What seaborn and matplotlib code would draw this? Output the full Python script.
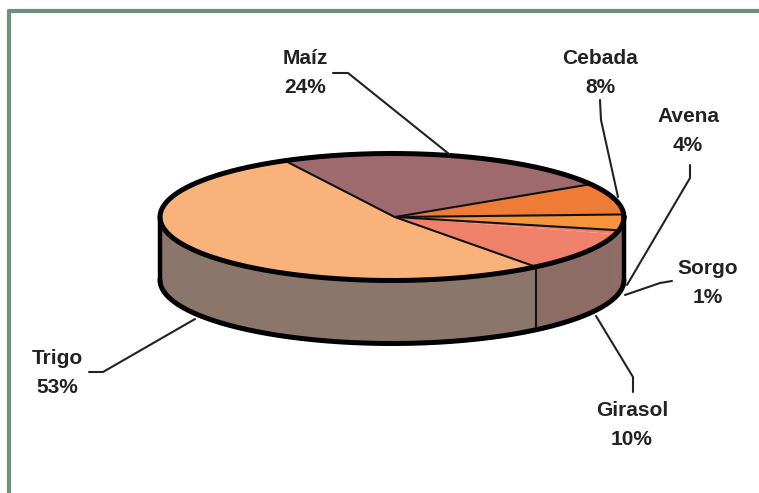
import numpy as np
import matplotlib
matplotlib.use("Agg")
import matplotlib.pyplot as plt
from matplotlib.lines import Line2D
from matplotlib.transforms import Affine2D
import seaborn as sns

# Data
crops = ["Trigo", "Girasol", "Sorgo", "Avena", "Cebada", "Maíz"]
shares = [53, 10, 1, 4, 8, 24]
top_colors = ["#F9B27A", "#EF8069", "#EF8069", "#F7953C", "#EE7B36", "#9E6A6E"]
side_colors = ["#8A766A", "#8C6C64", "#8C6C64", "#8C6C64", "#8C6C64", "#8C6C64"]

# Layout (pixels in the 759x493 picture)
W, H = 759, 493
CX, CY, RX, RY, DEPTH = 392, 217, 232, 63.5, 63
START = 117.5
label_pos = {"Trigo": (57, 373), "Girasol": (632, 425), "Sorgo": (708, 283),
             "Avena": (688, 131), "Cebada": (600, 73), "Maíz": (305, 73)}
leaders = {"Trigo": [(89, 372), (103, 372), (195, 319)],
           "Girasol": [(633, 392), (633, 377), (596, 316)],
           "Sorgo": [(672, 281), (660, 283), (625, 295)],
           "Avena": [(690, 165), (690, 178), (627, 285)],
           "Cebada": [(600, 100), (601, 120), (618, 197)],
           "Maíz": [(333, 73), (348, 73), (449, 154)]}

sns.set_theme(style="white")
plt.rcParams["font.family"] = ["Liberation Sans", "DejaVu Sans"]

fig = plt.figure(figsize=(W / 100, H / 100), dpi=100, facecolor="white")
ax = fig.add_axes([0, 0, 1, 1])

# Top face: a pie squashed into an ellipse by the axes limits
ax.pie(shares, colors=top_colors, startangle=START, counterclock=True, radius=1,
       wedgeprops={"linewidth": 0})
ax.set_aspect("auto")
ax.set_xlim(-CX / RX, (W - CX) / RX)
ax.set_ylim((CY - H) / RY, CY / RY)

edges = START + np.cumsum([0] + shares) * 3.6
d = DEPTH / RY

# Side wall, from the same wedge angles
for i in range(len(crops)):
    a0, a1 = edges[i], edges[i + 1]
    for lo, hi in ((max(a0, 180), min(a1, 360)), (max(a0, 540), min(a1, 720))):
        if hi > lo:
            t = np.radians(np.linspace(lo, hi, 200))
            ax.fill_between(np.cos(t), np.sin(t), np.sin(t) - d, facecolor=side_colors[i],
                            edgecolor=side_colors[i], lw=0.6, zorder=0.5)

# Wedge boundaries (thin); Girasol and Sorgo share one colour and no divider
for k, a in enumerate(edges[:-1]):
    if crops[k] == "Sorgo":
        continue
    r = np.radians(a)
    ax.plot([0.012, np.cos(r)], [0, np.sin(r)], color="#111111", lw=1.5, zorder=5)

# Front divider on the wall where Trigo meets Girasol
r = np.radians(edges[1])
ax.plot([np.cos(r)] * 2, [np.sin(r), np.sin(r) - d], color="#111111", lw=1.5, zorder=5)

# Thick outlines
t = np.radians(np.linspace(0, 360, 721))
ax.plot(np.cos(t), np.sin(t), color="black", lw=3.6, zorder=6)
t = np.radians(np.linspace(180, 360, 361))
ax.plot(np.cos(t), np.sin(t) - d, color="black", lw=3.6, zorder=6)
ax.plot([-1, -1], [0, -d], color="black", lw=3.2, zorder=6)
ax.plot([1, 1], [0, -d], color="black", lw=3.2, zorder=6)

# Pixel transform for frame, labels and leader lines
px = Affine2D().scale(1 / W, -1 / H).translate(0, 1) + fig.transFigure
for name, share in zip(crops, shares):
    x, y = label_pos[name]
    fig.text(x, y, f"{name}\n{share}%", transform=px, ha="center", va="center",
             fontsize=15, fontweight="bold", color="#222222", linespacing=1.65, zorder=8)
    pts = leaders[name]
    fig.add_artist(Line2D([p[0] for p in pts], [p[1] for p in pts], transform=px,
                          color="#222222", lw=1.5, zorder=3))

fig.add_artist(Line2D([9, 9], [H, 11], transform=px, color="#6F8F7F", lw=3.0))
fig.add_artist(Line2D([9, W], [11, 11], transform=px, color="#6F8F7F", lw=3.0))

fig.savefig("out.png", dpi=100, facecolor="white")
